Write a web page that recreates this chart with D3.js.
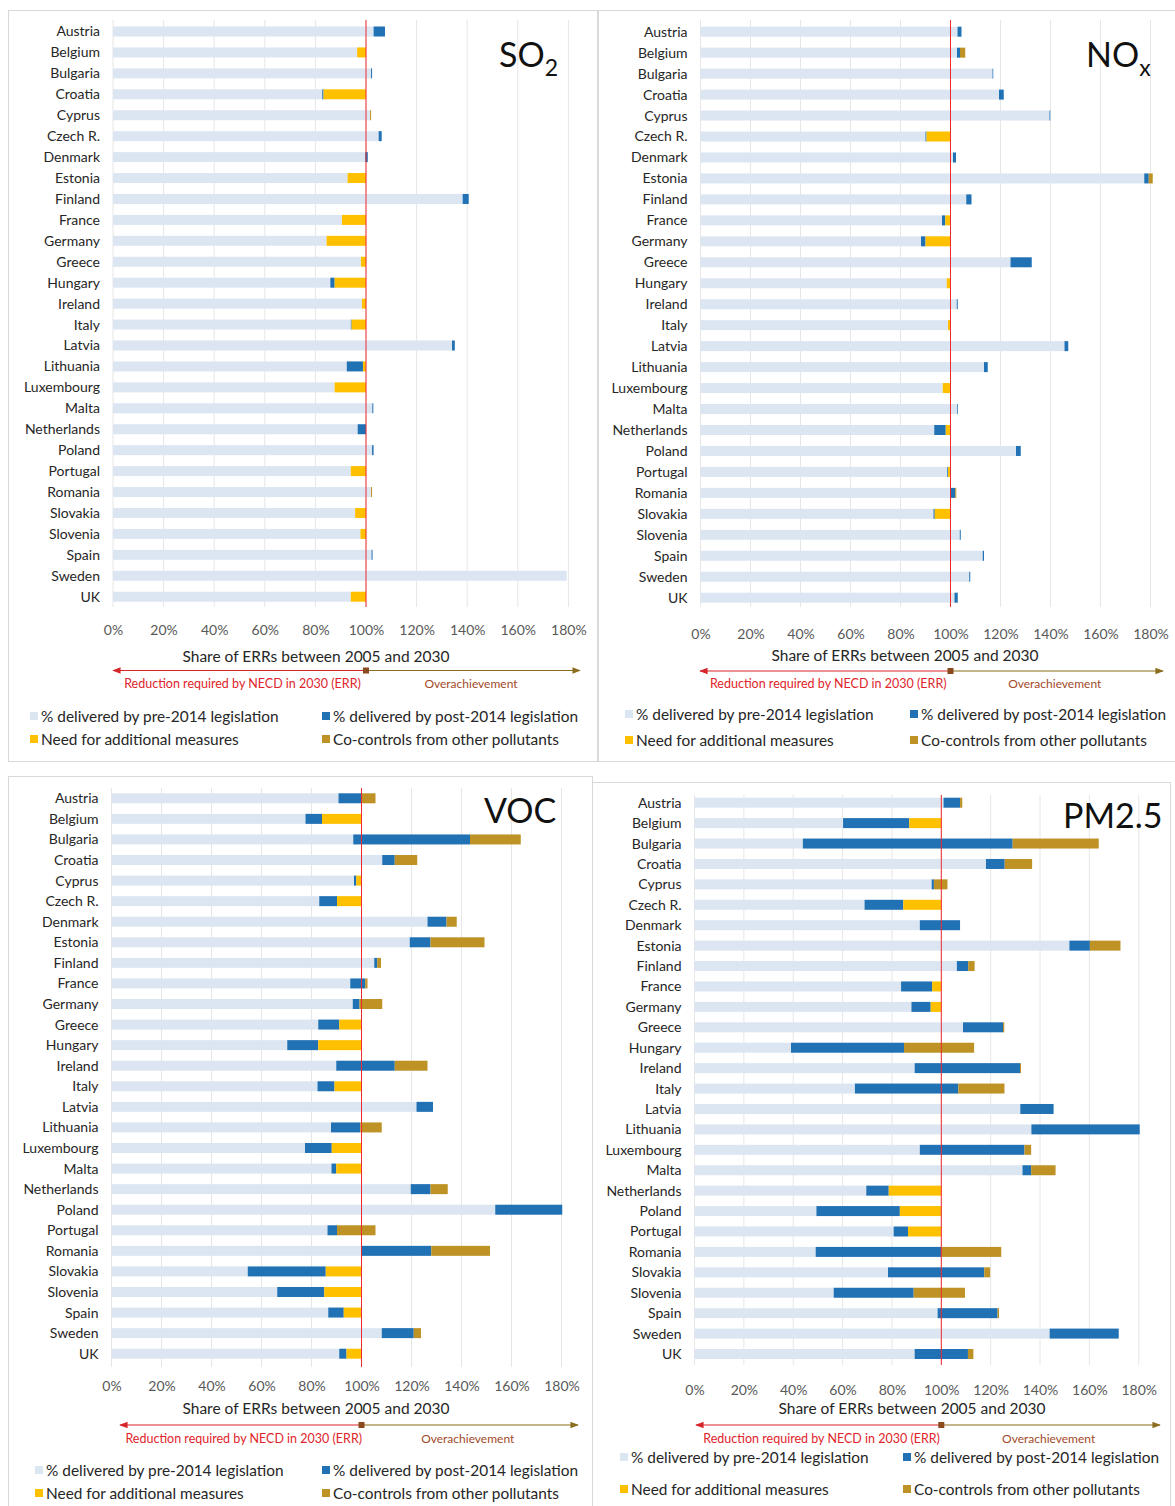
<!DOCTYPE html>
<html>
<head>
<meta charset="utf-8">
<script src="https://cdn.jsdelivr.net/npm/d3@7"></script>
<style>
  body { margin: 0; background: #fff; }
  svg { font-family: Lato, "Open Sans", sans-serif; }
</style>
</head>
<body>
<div id="chart-area"></div>
<script>
var countries = ["Austria","Belgium","Bulgaria","Croatia","Cyprus","Czech R.","Denmark","Estonia","Finland","France","Germany","Greece","Hungary","Ireland","Italy","Latvia","Lithuania","Luxembourg","Malta","Netherlands","Poland","Portugal","Romania","Slovakia","Slovenia","Spain","Sweden","UK"];
var ticks = [0, 20, 40, 60, 80, 100, 120, 140, 160, 180];
var seriesNames = ["% delivered by pre-2014 legislation", "% delivered by post-2014 legislation", "Need for additional measures", "Co-controls from other pollutants"];

// SO2
var so2Pre  = [103, 96.5, 102, 82.7, 101.6, 105, 99.7, 92.7, 138.2, 90.5, 84.4, 98, 85.9, 98.4, 94, 134, 92.4, 87.6, 102.5, 96.7, 102.4, 94, 102, 95.7, 97.8, 102.2, 179.3, 94];
var so2Post = [4.5, 0, 0.4, 0.5, 0, 1.2, 1.0, 0, 2.4, 0, 0, 0, 1.7, 0, 0.3, 1.1, 6.4, 0, 0.4, 3.3, 0.6, 0, 0, 0, 0, 0.4, 0, 0];
var so2Add  = [0, 3.5, 0, 16.8, 0, 0, 0, 7.3, 0, 9.5, 15.6, 2, 12.4, 1.6, 5.7, 0, 1.2, 12.4, 0, 0, 0, 6, 0, 4.3, 2.2, 0, 0, 6];
var so2Co   = [0, 0, 0, 0, 0.4, 0, 0, 0, 0, 0, 0, 0, 0, 0, 0, 0, 0, 0, 0, 0, 0, 0, 0.4, 0, 0, 0, 0, 0];

// NOx
var noxPre  = [102.8, 102.6, 116.8, 119.4, 139.6, 90, 101, 177.5, 106.3, 96.6, 88.2, 124, 98.5, 102.5, 99, 145.6, 113.4, 96.9, 102.6, 93.5, 126.2, 98.7, 100, 93.2, 103.7, 112.9, 107.5, 101.6];
var noxPost = [1.6, 1.2, 0.3, 1.9, 0.3, 0.4, 1.2, 1.8, 2.1, 1.3, 1.8, 8.5, 0, 0.4, 0, 1.5, 1.5, 0, 0.3, 4.6, 1.9, 0.3, 1.9, 0.5, 0.4, 0.5, 0.4, 1.3];
var noxAdd  = [0, 0, 0, 0, 0, 9.6, 0, 0, 0, 2.1, 10, 0, 1.5, 0, 1, 0, 0, 3.1, 0, 1.9, 0, 1, 0, 6.3, 0, 0, 0, 0];
var noxCo   = [0, 2.1, 0, 0, 0, 0, 0, 1.6, 0, 0, 0, 0, 0, 0, 0, 0, 0, 0, 0, 0, 0, 0, 0.4, 0, 0, 0, 0, 0];

// VOC
var vocPre  = [90.8, 77.6, 96.7, 108.3, 97, 83.1, 126.4, 119.3, 105.1, 95.5, 96.5, 82.7, 70.3, 89.9, 82.4, 122, 87.8, 77.4, 88, 119.7, 153.5, 86.4, 100, 54.5, 66.3, 86.7, 108.1, 91.1];
var vocPost = [9.2, 6.6, 46.7, 5, 0.9, 7.1, 7.6, 8.3, 1.2, 6, 2.7, 8.4, 12.4, 23.4, 6.8, 6.6, 11.7, 10.7, 1.9, 7.9, 26.8, 3.8, 27.9, 31.2, 18.8, 6.2, 12.8, 2.9];
var vocAdd  = [0, 15.8, 0, 0, 2.1, 9.8, 0, 0, 0, 0, 0, 8.9, 17.3, 0, 10.8, 0, 0, 11.9, 10.1, 0, 0, 0, 0, 14.3, 14.9, 7.1, 0, 6];
var vocCo   = [5.6, 0, 20.3, 9, 0, 0, 4.1, 21.6, 1.5, 0.9, 9.1, 0, 0, 13.1, 0, 0, 8.6, 0, 0, 6.9, 0, 15.4, 23.5, 0, 0, 0, 2.9, 0];

// PM2.5
var pmPre  = [100.9, 60.2, 43.9, 118.1, 96.1, 68.9, 91.3, 151.9, 106.3, 83.7, 87.9, 108.8, 39.1, 89.2, 65, 132, 136.5, 91.3, 132.9, 69.6, 49.4, 80.7, 49.1, 78.4, 56.4, 98.5, 143.9, 89.2];
var pmPost = [6.7, 26.8, 85, 7.6, 0.9, 15.7, 16.3, 8.3, 4.6, 12.6, 7.8, 16.2, 45.8, 42.7, 41.9, 13.5, 43.9, 42.4, 3.5, 9.1, 33.8, 5.8, 50.9, 39, 32.4, 24.3, 28, 21.6];
var pmAdd  = [0, 13, 0, 0, 0, 15.4, 0, 0, 0, 3.7, 4.3, 0, 0, 0, 0, 0, 0, 0, 0, 21.3, 16.8, 13.5, 0, 0, 0, 0, 0, 0];
var pmCo   = [0.9, 0, 34.9, 11.1, 5.5, 0, 0, 12.4, 2.6, 0, 0, 0.5, 28.4, 0.4, 18.7, 0, 0, 2.7, 9.9, 0, 0, 0, 24.3, 2.4, 20.8, 0.6, 0, 2.2];

var keys = ["pre", "post", "add", "co"];
var colors = {pre: "#dce6f3", post: "#2171b5", add: "#ffc000", co: "#bf9226"};

var panels = [
  {title: "SO", sub: "2", box: [8, 10, 589, 751], x0: 113, x100: 366, yTop: 31.5, yBot: 596.7,
   gridTop: 20, gridBot: 607, tickY: 627, axisTitleX: 316, axisTitleY: 657, arrowY: 670.5, arrowL: 113, arrowR: 580,
   noteY: 683.5, legX: [30, 322], legY: [716, 739], titleX: 499, titleY: 67,
   pre: so2Pre, post: so2Post, add: so2Add, co: so2Co},
  {title: "NO", sub: "x", box: [598, 10, 590, 751], x0: 700.5, x100: 950.5, yTop: 31.7, yBot: 597.7,
   gridTop: 20, gridBot: 607, tickY: 631, axisTitleX: 905, axisTitleY: 656, arrowY: 671, arrowL: 700, arrowR: 1163,
   noteY: 684, legX: [625, 910], legY: [714, 740], titleX: 1086, titleY: 67,
   pre: noxPre, post: noxPost, add: noxAdd, co: noxCo},
  {title: "VOC", sub: "", box: [8, 776, 584, 740], x0: 111.5, x100: 361.5, yTop: 798.3, yBot: 1353.7,
   gridTop: 788, gridBot: 1367, tickY: 1383, axisTitleX: 316, axisTitleY: 1409, arrowY: 1425, arrowL: 120, arrowR: 578,
   noteY: 1438.5, legX: [35, 322], legY: [1470, 1493], titleX: 484, titleY: 823,
   pre: vocPre, post: vocPost, add: vocAdd, co: vocCo},
  {title: "PM2.5", sub: "", box: [592, 782, 578, 740], x0: 694.5, x100: 941.3, yTop: 802.7, yBot: 1354,
   gridTop: 795, gridBot: 1365, tickY: 1387, axisTitleX: 912, axisTitleY: 1409, arrowY: 1425, arrowL: 696, arrowR: 1160,
   noteY: 1438.5, legX: [620, 903], legY: [1457, 1489], titleX: 1063, titleY: 828,
   pre: pmPre, post: pmPost, add: pmAdd, co: pmCo}
];

var svg = d3.select("#chart-area")
  .append("svg")
    .attr("width", 1175)
    .attr("height", 1506);

var defs = svg.append("defs");
function marker(id, color, orient) {
  defs.append("marker")
    .attr("id", id)
    .attr("viewBox", "0 0 10 10")
    .attr("refX", 9).attr("refY", 5)
    .attr("markerWidth", 7).attr("markerHeight", 7)
    .attr("orient", orient)
    .append("path")
      .attr("d", "M0,1 L10,5 L0,9 z")
      .attr("fill", color);
}
marker("arrRed", "#d7262b", "auto-start-reverse");
marker("arrOlive", "#8a6d1d", "auto");

function drawPanel(p) {
  var g = svg.append("g");

  g.append("rect")
    .attr("x", p.box[0] + 0.5).attr("y", p.box[1] + 0.5)
    .attr("width", p.box[2]).attr("height", p.box[3])
    .attr("fill", "none")
    .attr("stroke", "#d9d9d9");

  var x = d3.scaleLinear().domain([0, 100]).range([p.x0, p.x100]);
  var y = d3.scalePoint().domain(countries).range([p.yTop, p.yBot]);

  // gridlines
  g.selectAll(".grid").data(ticks).enter()
    .append("line")
      .attr("x1", function(d) { return x(d); })
      .attr("x2", function(d) { return x(d); })
      .attr("y1", p.gridTop).attr("y2", p.gridBot)
      .attr("stroke", "#e6e6e6");

  var table = countries.map(function(c, i) {
    return {country: c, pre: p.pre[i], post: p.post[i], add: p.add[i], co: p.co[i]};
  });
  var stacked = d3.stack().keys(keys)(table);

  var barH = 10;
  g.selectAll(".series").data(stacked).enter()
    .append("g")
      .attr("fill", function(d) { return colors[d.key]; })
    .selectAll("rect").data(function(d) { return d; }).enter()
    .append("rect")
      .attr("x", function(d) { return x(d[0]); })
      .attr("y", function(d) { return y(d.data.country) - barH / 2; })
      .attr("width", function(d) { return Math.max(0, x(d[1]) - x(d[0])); })
      .attr("height", barH);

  // 100% target line
  g.append("line")
    .attr("x1", x(100)).attr("x2", x(100))
    .attr("y1", p.gridTop).attr("y2", p.gridBot)
    .attr("stroke", "#ee2a2f")
    .attr("stroke-width", 1);

  // country labels
  var yAxis = d3.axisLeft(y).tickSize(0).tickPadding(13);
  var ya = g.append("g")
    .attr("transform", "translate(" + p.x0 + ",0)")
    .call(yAxis);
  ya.select(".domain").remove();
  ya.selectAll("text")
    .attr("font-family", "Lato, sans-serif")
    .attr("font-size", "14px")
    .attr("fill", "#262626");

  // percent ticks
  var xAxis = d3.axisBottom(x).tickValues(ticks).tickSize(0)
    .tickFormat(function(d) { return d + "%"; });
  var xa = g.append("g")
    .attr("transform", "translate(0," + (p.tickY - 5) + ")")
    .call(xAxis);
  xa.select(".domain").remove();
  xa.selectAll("text")
    .attr("font-family", "Lato, sans-serif")
    .attr("font-size", "14px")
    .attr("fill", "#595959");

  g.append("text")
    .attr("x", p.axisTitleX)
    .attr("y", p.axisTitleY + 5)
    .attr("text-anchor", "middle")
    .attr("font-size", "15.5px")
    .attr("fill", "#262626")
    .text("Share of ERRs between 2005 and 2030");

  // arrows
  g.append("line")
    .attr("x1", x(100) - 1).attr("x2", p.arrowL)
    .attr("y1", p.arrowY).attr("y2", p.arrowY)
    .attr("stroke", "#d7262b").attr("stroke-width", 1.2)
    .attr("marker-end", "url(#arrRed)");
  g.append("line")
    .attr("x1", x(100) + 1).attr("x2", p.arrowR)
    .attr("y1", p.arrowY).attr("y2", p.arrowY)
    .attr("stroke", "#8a6d1d").attr("stroke-width", 1.2)
    .attr("marker-end", "url(#arrOlive)");
  g.append("rect")
    .attr("x", x(100) - 3).attr("y", p.arrowY - 3)
    .attr("width", 6).attr("height", 6)
    .attr("fill", "#8a4a1d");

  g.append("text")
    .attr("x", (p.arrowL + x(100)) / 2 + 3)
    .attr("y", p.noteY + 4)
    .attr("text-anchor", "middle")
    .attr("font-size", "12.5px")
    .attr("fill", "#e0242b")
    .text("Reduction required by NECD in 2030 (ERR)");
  g.append("text")
    .attr("x", (x(100) + p.arrowR) / 2 - 2)
    .attr("y", p.noteY + 4)
    .attr("text-anchor", "middle")
    .attr("font-size", "12px")
    .attr("fill", "#a34a2a")
    .text("Overachievement");

  // legend
  var leg = keys.map(function(k, i) {
    return {key: k, name: seriesNames[i], col: i % 2, row: Math.floor(i / 2)};
  });
  var lg = g.selectAll(".leg").data(leg).enter()
    .append("g")
      .attr("transform", function(d) {
        return "translate(" + p.legX[d.col] + "," + p.legY[d.row] + ")";
      });
  lg.append("rect")
    .attr("x", 0).attr("y", -4)
    .attr("width", 8).attr("height", 8)
    .attr("fill", function(d) { return colors[d.key]; });
  lg.append("text")
    .attr("x", 11).attr("y", 5.5)
    .attr("font-size", "15.4px")
    .attr("fill", "#262626")
    .text(function(d) { return d.name; });

  // pollutant title
  var t = g.append("text")
    .attr("x", p.titleX).attr("y", p.titleY)
    .attr("font-size", "34px")
    .attr("fill", "#111");
  t.append("tspan").text(p.title);
  if (p.sub) {
    t.append("tspan")
      .attr("dy", 9)
      .attr("font-size", "23px")
      .text(p.sub);
  }
}

panels.forEach(drawPanel);
</script>
</body>
</html>
